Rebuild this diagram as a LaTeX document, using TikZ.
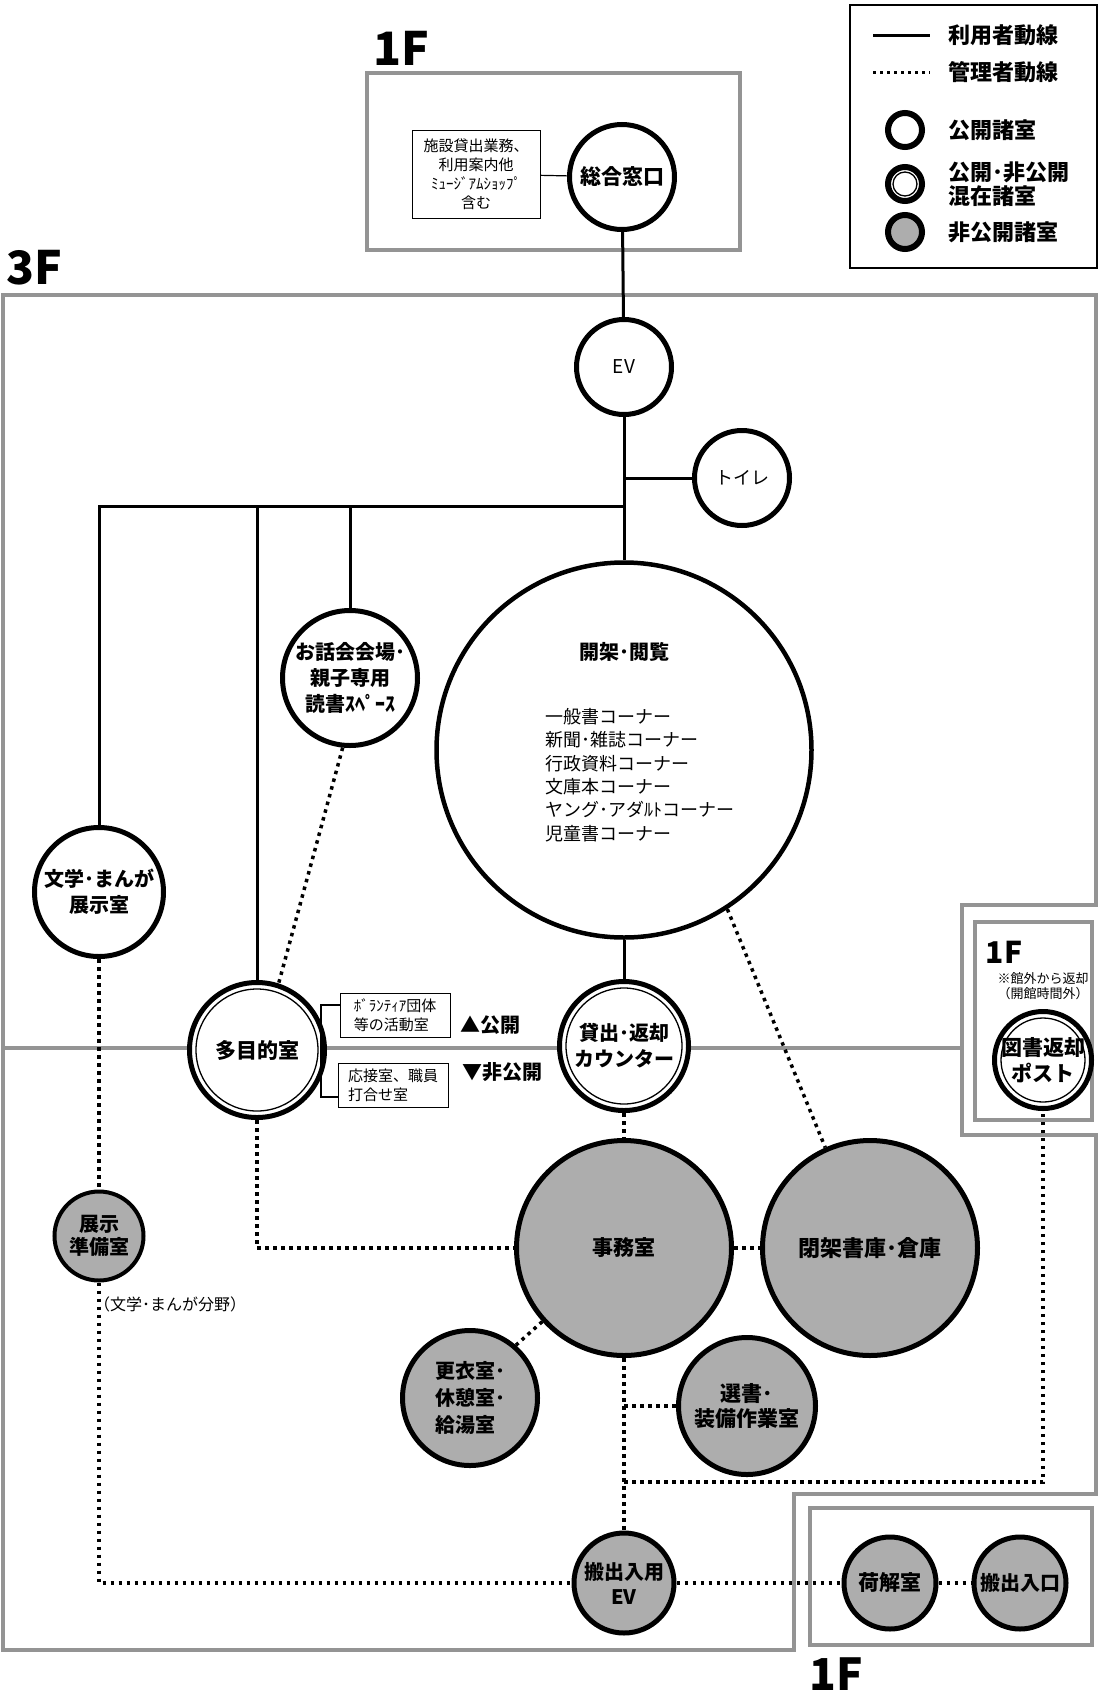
\documentclass[tikz,border=0pt]{standalone}
\usepackage{fontspec}
\setmainfont{Noto Sans CJK JP}
\usepackage{tikz}

\begin{document}
\begin{tikzpicture}[x=1pt, y=-1pt,
    room/.style={circle, draw, line width=5pt, fill=white, inner sep=0pt, align=center,
                 font=\bfseries\fontsize{20}{26}\selectfont},
    pub/.style={room},
    mix/.style={room, path picture={\draw[line width=1.3pt] (path picture bounding box.center) circle[radius=#1];}},
    priv/.style={room, fill=black!32},
    user/.style={line width=3pt},
    staff/.style={line width=3.5pt, dash pattern=on 3.5pt off 4.5pt},
    floor/.style={draw=black!42, line width=4pt},
    note/.style={draw, line width=1pt, inner sep=2pt, font=\fontsize{15}{19}\selectfont},
    flabel/.style={font=\bfseries\fontsize{46}{46}\selectfont},
    legtext/.style={anchor=west, align=left, font=\bfseries\fontsize{22}{24}\selectfont}]
\useasboundingbox (0,0) rectangle (1099,1697);

\draw[floor] (367,73) rectangle (740,250);
\draw[floor] (3,295) -- (1096,295) -- (1096,905) -- (962,905) -- (962,1135) -- (1096,1135)
             -- (1096,1494) -- (794,1494) -- (794,1650) -- (3,1650) -- cycle;
\draw[floor] (975,922) rectangle (1092,1120);
\draw[floor] (810,1508) rectangle (1092,1645);
\draw[floor] (3,1048) -- (962,1048);

\node (f1top)  [flabel] at (401,48)   {1F};
\node (f3)     [flabel] at (34,268)   {3F};
\node (f1post) [flabel, font=\bfseries\fontsize{30}{30}\selectfont] at (1004,952) {1F};
\node (f1bot)  [flabel, font=\bfseries\fontsize{44}{44}\selectfont] at (836,1674) {1F};
\node (postnote) [align=center, font=\fontsize{13}{15}\selectfont] at (1043,986) {※館外から返却\\（開館時間外）};

\draw[line width=1.5pt] (850,5) rectangle (1097,268);
\coordinate (lgU1) at (873,35);
\coordinate (lgU2) at (930,35);
\coordinate (lgS1) at (873,72);
\coordinate (lgS2) at (930,72);
\draw[user] (lgU1) -- (lgU2);
\draw[staff, line width=3pt, dash pattern=on 3pt off 4pt] (lgS1) -- (lgS2);
\node (lgUserT)  [legtext] at (945,35)  {利用者動線};
\node (lgStaffT) [legtext] at (945,72)  {管理者動線};
\node (lgPub)    [pub, minimum size=34pt, line width=6pt]     at (905,130) {};
\node (lgMix)    [mix=12pt, minimum size=34pt, line width=6pt] at (905,184) {};
\node (lgPriv)   [priv, minimum size=34pt, line width=6pt]    at (905,232) {};
\node (lgPubT)   [legtext] at (945,130) {公開諸室};
\node (lgMixT)   [legtext] at (945,184) {公開･非公開\\混在諸室};
\node (lgPrivT)  [legtext] at (945,232) {非公開諸室};

\node (sisetsu)  [note, align=center, minimum width=128pt, minimum height=88pt] at (476,174)
                 {施設貸出業務、\\利用案内他\\ﾐｭｰｼﾞｱﾑｼｮｯﾌﾟ\\含む};
\node (sougou)   [pub, minimum size=105pt, font=\bfseries\fontsize{21}{26}\selectfont] at (622,177) {総合窓口};
\node (ev)       [pub, minimum size=95pt, font=\fontsize{19}{23}\selectfont] at (624,367) {EV};
\node (toilet)   [pub, minimum size=95pt, font=\fontsize{18}{22}\selectfont] at (742,478) {トイレ};
\node (ohanashi) [pub, minimum size=135pt] at (350,678) {お話会会場･\\親子専用\\読書ｽﾍﾟｰｽ};
\node (kaika)    [pub, minimum size=375pt, line width=4.5pt] at (624,750) {};
\node (kaikaT)   [font=\bfseries\fontsize{20}{24}\selectfont] at (624,652) {開架･閲覧};
\node (kaikaL)   [anchor=north west, align=left, inner sep=0pt, font=\fontsize{18}{23.4}\selectfont] at (545,708)
                 {一般書コーナー\\新聞･雑誌コーナー\\行政資料コーナー\\文庫本コーナー\\ヤング･アダﾙﾄコーナー\\児童書コーナー};
\node (bungaku)  [pub, minimum size=129pt] at (99,892) {文学･まんが\\展示室};
\node (tamoku)   [mix=61pt, minimum size=135pt, font=\bfseries\fontsize{21}{26}\selectfont] at (257,1050) {多目的室};
\node (vol)      [note, align=left, minimum width=110pt, minimum height=44pt] at (395,1015) {ﾎﾞﾗﾝﾃｨｱ団体\\等の活動室};
\node (meet)     [note, align=left, minimum width=110pt, minimum height=44pt] at (393,1085) {応接室、職員\\打合せ室};
\node (open)     [font=\bfseries\fontsize{20}{22}\selectfont] at (490,1025) {▲公開};
\node (closed)   [font=\bfseries\fontsize{20}{22}\selectfont] at (502,1072) {▼非公開};
\node (kashi)    [mix=58pt, minimum size=129pt] at (624,1046) {貸出･返却\\カウンター};
\node (post)     [mix=42pt, minimum size=97pt, font=\bfseries\fontsize{21}{26}\selectfont] at (1043,1060) {図書返却\\ポスト};
\node (tenji)    [priv, minimum size=89pt, line width=4pt, font=\bfseries\fontsize{20}{23}\selectfont] at (99,1236) {展示\\準備室};
\node (bunya)    [font=\fontsize{16}{18}\selectfont] at (170,1304) {（文学･まんが分野）};
\node (jimu)     [priv, minimum size=215pt, font=\bfseries\fontsize{21}{26}\selectfont] at (624,1248) {事務室};
\node (heika)    [priv, minimum size=215pt, font=\bfseries\fontsize{22}{26}\selectfont] at (870,1248) {閉架書庫･倉庫};
\node (koui)     [priv, minimum size=135pt, align=left, font=\bfseries\fontsize{20}{27}\selectfont] at (470,1398) {更衣室･\\休憩室･\\給湯室};
\node (sensho)   [priv, minimum size=137pt, font=\bfseries\fontsize{21}{25}\selectfont] at (747,1406) {選書･\\装備作業室};
\node (hanev)    [priv, minimum size=100pt, font=\bfseries\fontsize{20}{25}\selectfont] at (624,1583) {搬出入用\\EV};
\node (niage)    [priv, minimum size=92pt, font=\bfseries\fontsize{21}{25}\selectfont] at (890,1583) {荷解室};
\node (hanin)    [priv, minimum size=92pt, font=\bfseries\fontsize{20}{25}\selectfont] at (1020,1583) {搬出入口};

\coordinate (hub)  at (624,506);
\coordinate (turn) at (624,1482);
\coordinate (brTop) at (321,1005);
\coordinate (brBot) at (321,1097);

\draw[line width=1.2pt] (sisetsu) -- (sougou);
\draw[line width=1.2pt] (vol.west |- brTop) -- (brTop) -- (brBot) -- (meet.west |- brBot);
\draw[user] (sougou) -- (ev);
\draw[user] (ev) -- (kaika);
\draw[user] (ev |- toilet) -- (toilet);
\draw[user] (hub) -| (bungaku);
\draw[user] (hub) -| (tamoku);
\draw[user] (hub) -| (ohanashi);
\draw[user] (kaika) -- (kashi);

\draw[staff] (bungaku) -- (tenji);
\draw[staff] (tenji) |- (hanev);
\draw[staff] (hanev) -- (niage);
\draw[staff] (niage) -- (hanin);
\draw[staff] (ohanashi.-96) -- (tamoku.72);
\draw[staff] (tamoku) |- (jimu);
\draw[staff] (kashi) -- (jimu);
\draw[staff] (jimu) -- (heika);
\draw[staff] (kaika.-57) -- (heika.114);
\draw[staff] (jimu.222) -- (koui.49);
\draw[staff] (jimu) -- (hanev);
\draw[staff] (jimu.south |- sensho) -- (sensho);
\draw[staff] (turn) -| (post);
\end{tikzpicture}
\end{document}
